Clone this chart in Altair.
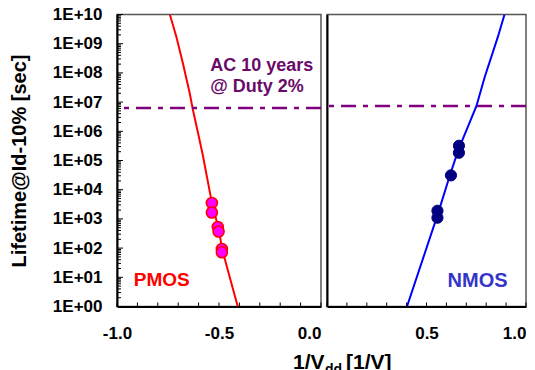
import altair as alt
import pandas as pd

# ---- data ----
pmos_line_x = [-0.741, -0.709, -0.677, -0.644, -0.628, -0.603, -0.580, -0.535, -0.501, -0.484, -0.449, -0.408]
pmos_line_y = [1e10, 1.74e9, 2.14e8, 2.09e7, 5.5e6, 8.9e5, 1.6e5, 3.6e3, 4.3e2, 8.9e1, 1.1e1, 1.0]
pmos_pts_x = [-0.535, -0.535, -0.506, -0.502, -0.486, -0.486]
pmos_pts_y = [3.5e3, 1.66e3, 5.3e2, 3.7e2, 9.3e1, 7.2e1]

nmos_line_x = [0.402, 0.556, 0.618, 0.660, 0.701, 0.751, 0.793, 0.859, 0.892]
nmos_line_y = [1.0, 1.4e3, 3.2e4, 2.3e5, 1.1e6, 7.4e6, 7.4e7, 1.74e9, 1e10]
nmos_pts_x = [0.663, 0.663, 0.623, 0.555, 0.555]
nmos_pts_y = [3.2e5, 1.84e5, 3.1e4, 1.9e3, 1.1e3]

limit_left = 6.3e6
limit_right = 7.4e6

y_major = [1, 1e1, 1e2, 1e3, 1e4, 1e5, 1e6, 1e7, 1e8, 1e9, 1e10]
y_minor = [m * 10 ** k for k in range(10) for m in range(2, 10)]
x_ticks_left = [-1.0, -0.9, -0.8, -0.7, -0.6, -0.5, -0.4, -0.3, -0.2, -0.1, 0.0]
x_ticks_right = [0.0, 0.1, 0.2, 0.3, 0.4, 0.5, 0.6, 0.7, 0.8, 0.9, 1.0]
x_labels_left = [-1.0, -0.5, 0.0]
x_labels_right = [0.5, 1.0]

annot_lines = ["AC 10 years", "@ Duty 2%"]
annot_x = [-0.543, -0.543]
annot_y = [1.17e8, 2.14e7]

W_L, W_R, H = 204, 199, 292
FONT = "Liberation Sans"
PURPLE = "#800080"

ylog = alt.Scale(type="log", domain=[1, 1e10], nice=False)
xs_left = alt.Scale(domain=[-1.0, 0.0], nice=False, zero=False)
xs_right = alt.Scale(domain=[0.0, 1.0], nice=False, zero=False)

label_expr_y = "'1E+' + (round(log(datum.value)/LN10) < 10 ? '0' : '') + round(log(datum.value)/LN10)"
label_expr_x = "(datum.value < 0 ? '-' : '') + format(abs(datum.value), '.1f')"

y_axis_left = alt.Axis(values=y_major, labelExpr=label_expr_y, ticks=False,
                       title="Lifetime@Id-10% [sec]", titleFontSize=20, titleFont=FONT,
                       titleFontWeight="bold", titleColor="black", titlePadding=23,
                       labelPadding=15)
y_axis_right = alt.Axis(labels=False, ticks=False, title=None)

x_axis_left = alt.Axis(values=x_labels_left, labelExpr=label_expr_x, ticks=False, title=None,
                       labelPadding=19,
                       labelAlign={"condition": {"test": "datum.value == 0", "value": "right"},
                                   "value": "center"})
x_axis_right = alt.Axis(values=x_labels_right, labelExpr=label_expr_x, ticks=False, title=None,
                        labelPadding=19)

# ---------- left panel (PMOS) ----------
df_pl = pd.DataFrame({"x": pmos_line_x, "y": pmos_line_y})
df_pp = pd.DataFrame({"x": pmos_pts_x, "y": pmos_pts_y})
df_yminor = pd.DataFrame({"v": y_minor})
df_ymajor = pd.DataFrame({"v": y_major})
df_xtl = pd.DataFrame({"v": x_ticks_left})
df_xtr = pd.DataFrame({"v": x_ticks_right})

line_l = alt.Chart(df_pl).mark_line(color="#ff0000", strokeWidth=2, clip=True).encode(
    x=alt.X("x:Q", scale=xs_left, axis=x_axis_left),
    y=alt.Y("y:Q", scale=ylog, axis=y_axis_left),
    order=alt.Order("x:Q"),
)
pts_l = alt.Chart(df_pp).mark_point(filled=False, shape="circle", size=120, fill="#ff00ff",
                                    fillOpacity=1, stroke="#ff0000", strokeWidth=1.6).encode(
    x=alt.X("x:Q", scale=xs_left), y=alt.Y("y:Q", scale=ylog))
lim_l = alt.Chart(pd.DataFrame({"y": [limit_left]})).mark_rule(
    color=PURPLE, strokeWidth=2.5, strokeDash=[15, 7, 5, 7]).encode(y=alt.Y("y:Q", scale=ylog))
yminor_l = alt.Chart(df_yminor).mark_rule(color="black", strokeWidth=1).encode(
    y=alt.Y("v:Q", scale=ylog), x=alt.value(0), x2=alt.value(4))
ymajor_l = alt.Chart(df_ymajor).mark_rule(color="black", strokeWidth=1).encode(
    y=alt.Y("v:Q", scale=ylog), x=alt.value(0), x2=alt.value(6))
xt_l = alt.Chart(df_xtl).mark_rule(color="black", strokeWidth=1).encode(
    x=alt.X("v:Q", scale=xs_left), y=alt.value(H), y2=alt.value(H - 4))
annot = alt.Chart(pd.DataFrame({"t": annot_lines, "x": annot_x, "y": annot_y})).mark_text(
    align="left", baseline="alphabetic", font=FONT, fontWeight="bold", fontSize=18,
    color="#6a0a6a").encode(x=alt.X("x:Q", scale=xs_left), y=alt.Y("y:Q", scale=ylog), text="t:N")
pmos_lbl = alt.Chart(pd.DataFrame({"t": ["PMOS"], "x": [-0.918], "y": [4.94]})).mark_text(
    align="left", baseline="alphabetic", font=FONT, fontWeight="bold", fontSize=19,
    color="#ff0000").encode(x=alt.X("x:Q", scale=xs_left), y=alt.Y("y:Q", scale=ylog), text="t:N")

# x-axis title drawn as text pieces (with subscript)
xt1 = alt.Chart(pd.DataFrame({"t": ["1/V"]})).mark_text(
    align="left", baseline="alphabetic", font=FONT, fontWeight="bold", fontSize=21, color="black"
).encode(text="t:N", x=alt.value(176), y=alt.value(354.5))
xt2 = alt.Chart(pd.DataFrame({"t": ["dd"]})).mark_text(
    align="left", baseline="alphabetic", font=FONT, fontWeight="bold", fontSize=14, color="black"
).encode(text="t:N", x=alt.value(208), y=alt.value(359.5))
xt3 = alt.Chart(pd.DataFrame({"t": ["[1/V]"]})).mark_text(
    align="left", baseline="alphabetic", font=FONT, fontWeight="bold", fontSize=21, color="black"
).encode(text="t:N", x=alt.value(229), y=alt.value(354.5))

left = alt.layer(line_l, lim_l, pts_l, yminor_l, ymajor_l, xt_l, annot, pmos_lbl, xt1, xt2, xt3
                 ).properties(width=W_L, height=H)

# ---------- right panel (NMOS) ----------
df_nl = pd.DataFrame({"x": nmos_line_x, "y": nmos_line_y})
df_np = pd.DataFrame({"x": nmos_pts_x, "y": nmos_pts_y})
line_r = alt.Chart(df_nl).mark_line(color="#0000ff", strokeWidth=2, clip=True).encode(
    x=alt.X("x:Q", scale=xs_right, axis=x_axis_right),
    y=alt.Y("y:Q", scale=ylog, axis=y_axis_right),
    order=alt.Order("x:Q"),
)
pts_r = alt.Chart(df_np).mark_point(filled=True, shape="circle", size=125, color="#000080",
                                    opacity=1, stroke="#000080", strokeWidth=1).encode(
    x=alt.X("x:Q", scale=xs_right), y=alt.Y("y:Q", scale=ylog))
lim_r = alt.Chart(pd.DataFrame({"y": [limit_right]})).mark_rule(
    color=PURPLE, strokeWidth=2.5, strokeDash=[15, 7, 5, 7]).encode(y=alt.Y("y:Q", scale=ylog))
xt_r = alt.Chart(df_xtr).mark_rule(color="black", strokeWidth=1).encode(
    x=alt.X("v:Q", scale=xs_right), y=alt.value(H), y2=alt.value(H - 4))
nmos_lbl = alt.Chart(pd.DataFrame({"t": ["NMOS"], "x": [0.606], "y": [4.72]})).mark_text(
    align="left", baseline="alphabetic", font=FONT, fontWeight="bold", fontSize=20,
    color="#3535c8").encode(x=alt.X("x:Q", scale=xs_right), y=alt.Y("y:Q", scale=ylog), text="t:N")

right = alt.layer(lim_r, line_r, pts_r, xt_r, nmos_lbl).properties(width=W_R, height=H)

PAD_L, PAD_T = 109, 6.5
SVG_W, SVG_H = 519, 362

chart = alt.hconcat(left, right, spacing=6, bounds="flush").resolve_scale(
    x="independent", y="independent").properties(
    autosize=alt.AutoSizeParams(type="none"),
    padding={"left": PAD_L, "top": PAD_T, "right": SVG_W - PAD_L, "bottom": SVG_H - PAD_T},
).configure(font=FONT, background="white").configure_axis(
    labelFont=FONT, labelFontWeight="bold", labelFontSize=17, labelColor="black",
    domainColor="black", domainWidth=2, grid=False,
).configure_view(stroke="#555555", strokeWidth=1.5)

chart.save("out.html", embed_options={"renderer": "svg", "actions": False})
